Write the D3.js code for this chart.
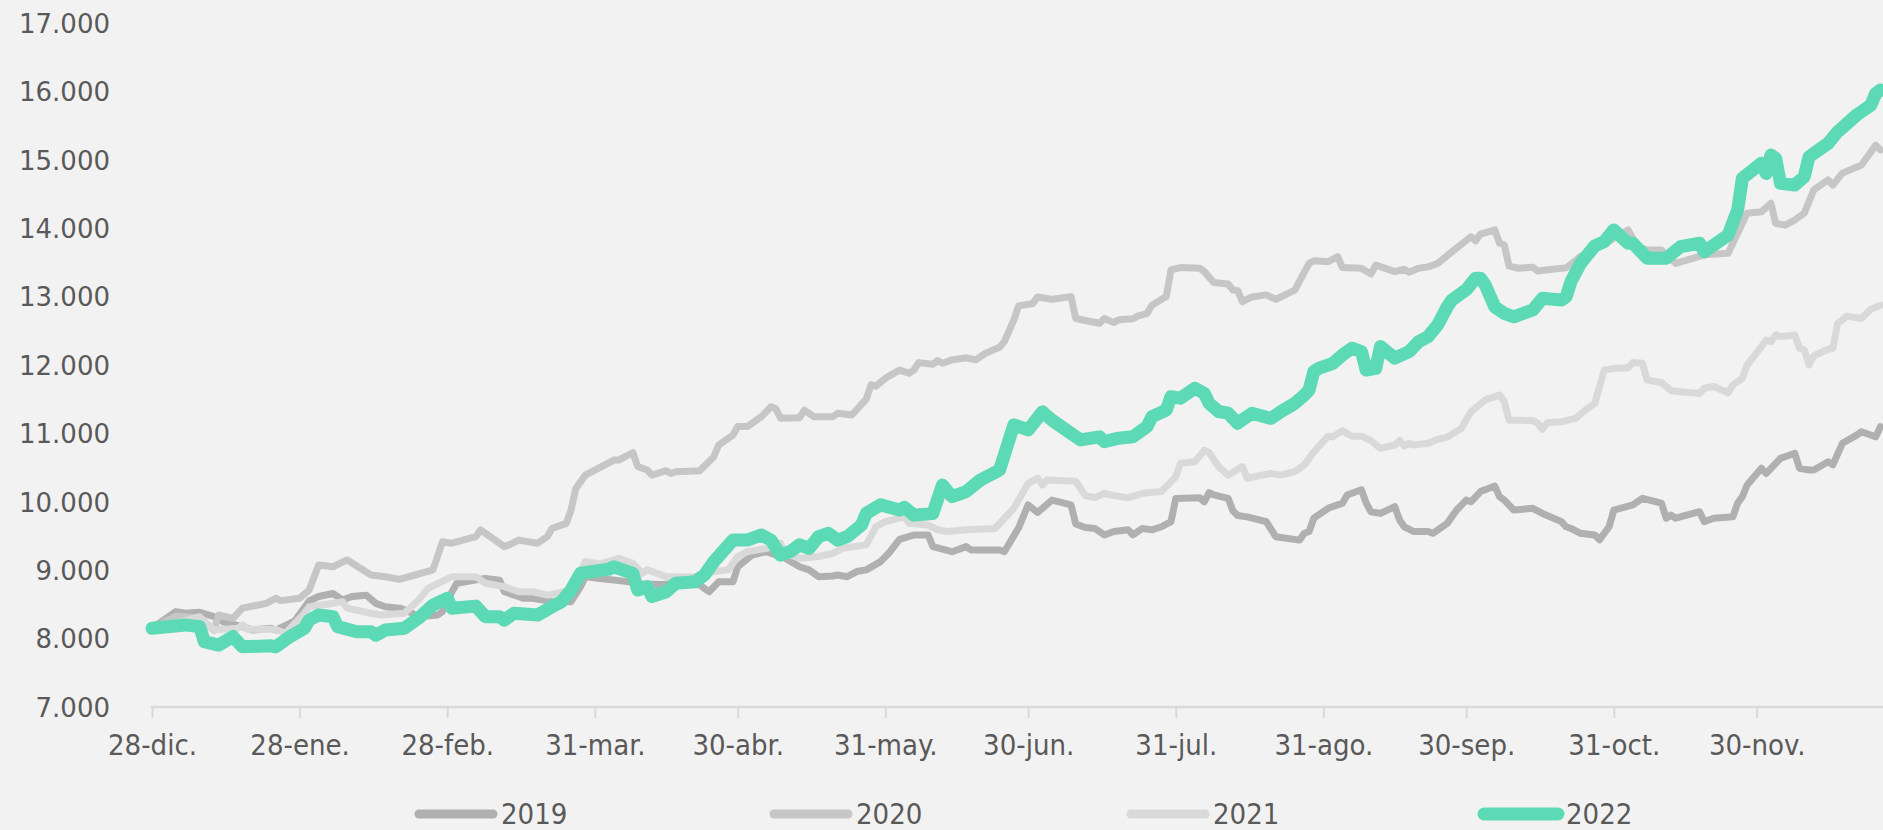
<!DOCTYPE html>
<html lang="es">
<head>
<meta charset="utf-8">
<script src="https://cdn.jsdelivr.net/npm/d3@7"></script>
<style>
  html, body { margin: 0; padding: 0; background: #f2f2f2; }
  svg { display: block; }
  .ylab { font-family: "DejaVu Sans", sans-serif; font-size: 26px; fill: #595959; }
  .xlab, .leg { font-family: "DejaVu Sans Condensed", "DejaVu Sans", sans-serif; font-size: 29px; fill: #595959; }
</style>
</head>
<body>
<svg id="chart" width="1883" height="830"></svg>
<script>
// Day offsets counted from 28-dic.; values are index levels.
const serie2019 = [[0,8150],[5,8395],[7,8370],[10,8385],[13,8320],[15,8245],[19,8175],[21,8125],[25,8150],[26,8125],[30,8260],[33,8550],[35,8615],[38,8660],[40,8565],[42,8615],[45,8635],[47,8515],[49,8465],[52,8445],[54,8395],[56,8320],[60,8345],[61,8395],[63,8685],[64,8810],[70,8880],[73,8855],[74,8685],[78,8590],[80,8590],[84,8540],[88,8540],[90,8760],[91,8905],[95,8870],[99,8840],[103,8800],[107,8790],[111,8810],[115,8785],[117,8685],[119,8830],[122,8830],[123,9050],[126,9220],[129,9270],[133,9175],[136,9050],[138,9005],[140,8905],[143,8915],[144,8930],[146,8905],[148,8980],[150,9005],[153,9125],[155,9270],[157,9450],[160,9515],[163,9515],[164,9345],[168,9270],[171,9345],[172,9295],[178,9295],[179,9270],[182,9620],[184,9955],[186,9845],[189,10025],[193,9955],[194,9675],[196,9625],[198,9610],[200,9515],[202,9565],[205,9590],[206,9515],[208,9610],[210,9590],[212,9635],[214,9710],[215,10050],[220,10060],[221,10000],[222,10135],[223,10100],[226,10050],[227,9870],[228,9800],[230,9780],[234,9710],[236,9490],[241,9440],[242,9540],[243,9565],[244,9760],[247,9905],[250,9980],[251,10100],[254,10175],[255,9980],[256,9855],[258,9830],[261,9930],[262,9735],[263,9635],[265,9565],[268,9565],[269,9540],[272,9685],[274,9880],[276,10025],[277,10000],[279,10150],[282,10230],[283,10075],[284,10025],[286,9880],[290,9905],[292,9830],[296,9710],[297,9635],[298,9610],[300,9540],[303,9515],[304,9445],[306,9635],[307,9880],[311,9955],[313,10050],[317,9980],[318,9760],[319,9805],[320,9760],[325,9855],[326,9710],[328,9760],[332,9780],[333,9980],[334,10075],[335,10245],[338,10490],[339,10415],[340,10490],[342,10635],[345,10710],[346,10490],[348,10465],[349,10465],[352,10585],[353,10540],[355,10855],[358,10975],[359,11025],[362,10950],[363,11100]];

const serie2020 = [[0,8150],[5,8330],[10,8300],[13,8120],[14,8345],[17,8295],[19,8445],[24,8515],[26,8590],[27,8555],[31,8590],[33,8710],[35,9075],[38,9050],[41,9150],[46,8930],[49,8905],[52,8865],[54,8905],[59,9005],[61,9415],[63,9395],[68,9490],[69,9590],[74,9345],[75,9370],[77,9440],[81,9395],[83,9490],[84,9610],[87,9685],[88,9880],[89,10195],[91,10390],[97,10610],[98,10610],[101,10720],[102,10515],[104,10465],[105,10390],[108,10455],[109,10415],[110,10440],[115,10455],[118,10660],[119,10830],[122,10975],[123,11100],[125,11100],[128,11245],[130,11390],[131,11365],[132,11220],[136,11230],[137,11340],[139,11245],[143,11245],[144,11295],[147,11270],[150,11500],[151,11710],[152,11690],[154,11805],[157,11925],[159,11880],[160,11925],[161,12035],[164,12010],[165,12065],[166,12025],[168,12075],[171,12105],[173,12075],[175,12170],[178,12260],[179,12340],[181,12660],[182,12865],[185,12900],[186,12995],[189,12960],[193,13000],[194,12680],[196,12650],[199,12610],[200,12680],[202,12620],[203,12660],[206,12675],[207,12715],[209,12755],[210,12875],[213,13000],[214,13390],[216,13425],[220,13415],[221,13365],[223,13205],[226,13185],[227,13095],[228,13090],[229,12925],[231,12995],[234,13025],[236,12960],[240,13095],[243,13485],[244,13525],[247,13510],[249,13585],[250,13425],[254,13415],[256,13330],[257,13460],[261,13365],[263,13400],[264,13355],[266,13415],[268,13435],[270,13485],[273,13655],[277,13875],[278,13815],[279,13915],[282,13975],[283,13780],[284,13755],[285,13445],[287,13415],[290,13430],[291,13375],[294,13400],[297,13420],[300,13585],[304,13730],[310,13975],[312,13730],[314,13680],[317,13680],[320,13485],[326,13610],[331,13635],[333,13925],[335,14220],[338,14240],[340,14365],[341,14070],[343,14045],[345,14120],[347,14220],[349,14560],[352,14705],[353,14630],[355,14805],[359,14925],[362,15215],[363,15145]];

const serie2021 = [[0,8150],[6,8245],[10,8320],[13,8125],[18,8150],[19,8200],[20,8135],[26,8135],[28,8075],[32,8370],[33,8465],[37,8505],[40,8540],[41,8445],[46,8370],[48,8345],[53,8370],[56,8565],[58,8735],[63,8905],[68,8905],[70,8810],[74,8760],[77,8685],[80,8685],[83,8635],[85,8660],[88,8710],[91,9125],[94,9090],[98,9175],[101,9100],[103,8955],[104,9005],[108,8905],[115,8905],[118,8980],[121,9005],[123,9200],[125,9270],[131,9345],[132,9395],[133,9245],[136,9175],[140,9200],[143,9245],[145,9320],[150,9370],[152,9635],[154,9710],[158,9780],[159,9685],[163,9660],[165,9590],[167,9565],[171,9590],[177,9610],[181,9905],[184,10270],[186,10345],[187,10245],[188,10320],[194,10300],[196,10090],[198,10060],[200,10125],[202,10090],[205,10060],[207,10100],[208,10125],[212,10150],[215,10365],[216,10565],[219,10585],[221,10755],[222,10720],[224,10515],[226,10390],[229,10515],[230,10345],[235,10415],[237,10390],[240,10440],[242,10540],[244,10730],[247,10960],[248,10950],[250,11040],[252,10960],[254,10960],[256,10895],[258,10780],[261,10830],[262,10895],[263,10815],[264,10855],[265,10830],[268,10855],[270,10915],[272,10945],[275,11075],[277,11315],[280,11490],[283,11560],[284,11465],[285,11195],[290,11185],[291,11150],[292,11060],[293,11155],[296,11170],[298,11205],[299,11220],[301,11340],[303,11440],[305,11925],[307,11950],[310,11960],[311,12035],[313,12025],[314,11780],[317,11745],[319,11625],[321,11610],[325,11585],[326,11660],[328,11685],[331,11595],[332,11710],[334,11805],[335,12000],[338,12270],[339,12365],[340,12340],[341,12440],[342,12415],[345,12440],[346,12245],[347,12220],[348,12000],[349,12135],[352,12230],[353,12245],[354,12610],[355,12660],[356,12715],[359,12680],[361,12815],[363,12875]];

const serie2022 = [[0,8150],[7,8200],[10,8175],[11,7955],[14,7905],[17,8030],[19,7880],[25,7895],[26,7880],[29,8030],[32,8150],[33,8270],[35,8345],[38,8320],[39,8175],[43,8100],[46,8100],[47,8050],[49,8125],[53,8150],[56,8300],[59,8490],[62,8590],[63,8445],[68,8475],[70,8320],[73,8320],[74,8270],[76,8370],[81,8345],[84,8465],[86,8540],[88,8710],[90,8955],[96,9015],[97,9050],[101,8955],[102,8710],[104,8760],[105,8615],[108,8685],[110,8810],[114,8830],[116,8930],[118,9125],[122,9440],[125,9440],[128,9515],[130,9440],[132,9220],[134,9270],[136,9370],[138,9320],[140,9490],[142,9540],[144,9440],[146,9490],[149,9660],[150,9830],[153,9955],[157,9880],[158,9920],[160,9805],[164,9830],[166,10245],[168,10075],[171,10150],[174,10320],[178,10465],[181,11125],[184,11050],[187,11315],[189,11195],[193,11000],[195,10905],[199,10950],[200,10880],[203,10930],[206,10950],[209,11100],[210,11245],[213,11340],[214,11535],[216,11515],[219,11660],[221,11585],[222,11440],[224,11320],[226,11295],[228,11150],[231,11295],[235,11220],[237,11315],[240,11440],[242,11560],[243,11635],[244,11905],[245,11950],[248,12025],[250,12145],[252,12245],[254,12195],[255,11925],[257,11950],[258,12270],[261,12100],[264,12195],[266,12340],[268,12415],[270,12585],[272,12850],[273,12950],[276,13100],[278,13270],[279,13270],[280,13170],[282,12850],[284,12755],[286,12705],[290,12805],[292,12975],[296,12950],[297,13000],[298,13220],[300,13485],[303,13740],[305,13805],[307,13975],[310,13780],[311,13780],[314,13560],[318,13560],[321,13730],[325,13780],[326,13655],[328,13755],[331,13900],[333,14265],[334,14730],[338,14950],[339,14800],[340,15070],[341,15020],[342,14655],[345,14630],[347,14755],[348,15045],[352,15240],[354,15410],[358,15655],[361,15800],[362,15970],[363,16020]];

const seriesNames = ["2019", "2020", "2021", "2022"];
const seriesColors = ["#b0b0b0", "#c6c6c6", "#d9d9d9", "#5cdab5"];
const seriesWidths = [7, 7, 7, 13];

const yTicks = [7000, 8000, 9000, 10000, 11000, 12000, 13000, 14000, 15000, 16000, 17000];
const xTickDays = [0, 31, 62, 93, 123, 154, 184, 215, 246, 276, 307, 337];
const xTickLabels = ["28-dic.", "28-ene.", "28-feb.", "31-mar.", "30-abr.", "31-may.", "30-jun.", "31-jul.", "31-ago.", "30-sep.", "31-oct.", "30-nov."];

const start = new Date(2021, 11, 28);
const dayToDate = d => new Date(start.getFullYear(), start.getMonth(), start.getDate() + d);

const svg = d3.select("#chart");
const W = 1883, H = 830;
const plot = { left: 152, right: 1890, top: 23, bottom: 707 };

const x = d3.scaleTime()
  .domain([dayToDate(0), dayToDate(365)])
  .range([plot.left, plot.right]);
const y = d3.scaleLinear()
  .domain([7000, 17000])
  .range([plot.bottom, plot.top]);

const fmt = d3.format(",");
const esNum = v => fmt(v).replace(/,/g, ".");

// value axis labels (no axis line, no gridlines)
const yAxis = d3.axisLeft(y).tickValues(yTicks).tickSize(0).tickPadding(0).tickFormat(esNum);
const gy = svg.append("g").attr("transform", "translate(110,0)").call(yAxis);
gy.select(".domain").remove();
gy.selectAll("text").attr("class", "ylab").attr("dy", "0.36em").attr("fill", null);

// date axis
const xAxis = d3.axisBottom(x)
  .tickValues(xTickDays.map(dayToDate))
  .tickSize(11)
  .tickPadding(16)
  .tickFormat((d, i) => xTickLabels[i]);
const gx = svg.append("g").attr("transform", `translate(0,${plot.bottom})`).call(xAxis);
gx.select(".domain").attr("stroke", "#d9d9d9").attr("stroke-width", 2.5)
  .attr("d", `M${plot.left},0.5V0H${W}`);
gx.selectAll(".tick line").attr("stroke", "#d9d9d9").attr("stroke-width", 2);
gx.selectAll("text").attr("class", "xlab").attr("fill", null).attr("dy", "0.71em");

// series lines
const line = d3.line()
  .x(p => x(dayToDate(p[0])))
  .y(p => y(p[1]));

const allSeries = [serie2019, serie2020, serie2021, serie2022];
svg.append("defs").append("clipPath").attr("id", "clip")
  .append("rect").attr("x", 0).attr("y", 0).attr("width", W).attr("height", plot.bottom);

const gLines = svg.append("g").attr("clip-path", "url(#clip)");
allSeries.forEach((s, i) => {
  gLines.append("path")
    .datum(s)
    .attr("d", line)
    .attr("fill", "none")
    .attr("stroke", seriesColors[i])
    .attr("stroke-width", seriesWidths[i])
    .attr("stroke-linejoin", "round")
    .attr("stroke-linecap", "round");
});

// legend
const legendX = [415, 770, 1127, 1480];
const legendY = 814;
const gLeg = svg.append("g");
seriesNames.forEach((name, i) => {
  const x0 = legendX[i];
  gLeg.append("line")
    .attr("x1", x0 + 4).attr("x2", x0 + 78)
    .attr("y1", legendY).attr("y2", legendY)
    .attr("stroke", seriesColors[i])
    .attr("stroke-width", i === 3 ? 13 : 9)
    .attr("stroke-linecap", "round");
  gLeg.append("text")
    .attr("class", "leg")
    .attr("x", x0 + 86).attr("y", legendY)
    .attr("dy", "0.36em")
    .text(name);
});
</script>
</body>
</html>
